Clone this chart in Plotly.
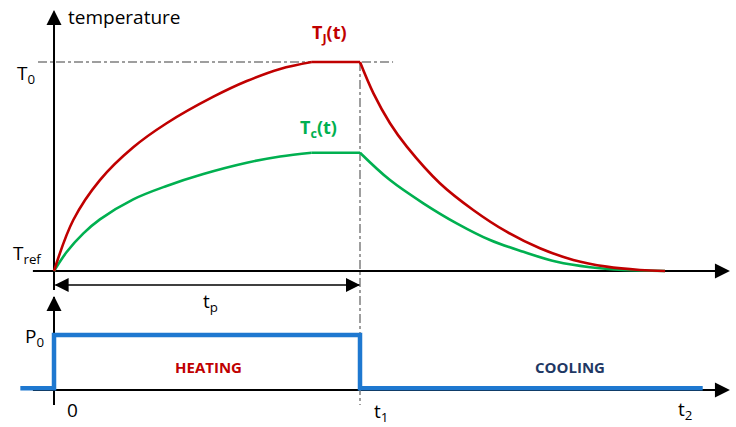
import plotly.graph_objects as go

# ---------------- data (time: t1 = 10 units; temperature: T0 = 100 units) -------------
T_REF = 0
T0 = 100
T1 = 10
T2 = 20
P0 = 1

tj_heat_t = [0, 0.63, 1.50, 2.59, 3.68, 5.21, 6.30, 7.39, 8.42]
tj_heat_T = [0, 24.4, 43.5, 59.2, 70.7, 83.4, 90.9, 96.7, 100]
tj_hold_t = [8.42, 10]
tj_hold_T = [100, 100]
tj_cool_t = [10, 10.44, 10.98, 11.53, 12.61, 13.70, 14.79, 15.88, 16.97, 18.06, 19.15, 19.97]
tj_cool_T = [100, 85, 70.7, 59.5, 42, 29.2, 18.8, 10.9, 5.3, 2.1, 0.5, 0]

tc_heat_t = [0, 0.42, 0.96, 1.50, 2.59, 3.68, 4.88, 6.30, 7.39, 8.42]
tc_heat_T = [0, 9.2, 18.0, 24.7, 34.3, 40.7, 46.4, 51.8, 54.8, 56.6]
tc_hold_t = [8.42, 10]
tc_hold_T = [56.6, 56.6]
tc_cool_t = [10, 10.98, 12.07, 13.16, 14.25, 15.34, 16.43, 17.52, 18.61, 19.97]
tc_cool_T = [56.6, 43.5, 32.4, 22.8, 14.8, 9.2, 4.4, 1.8, 0.5, 0]

power_t = [-1.1, 0, 0, 10, 10, 21.2]
power_P = [0.03, 0.03, 1, 1, 0.03, 0.03]

RED = "#C00000"
GREEN = "#00B050"
BLUE = "#1E78D0"
NAVY = "#1F3864"
GREY = "#7F7F7F"
FONT = "Open Sans"

fig = go.Figure()

def add_line(x, y, color, spline, yaxis="y", width=2.6):
    fig.add_trace(go.Scatter(
        x=x, y=y, mode="lines", yaxis=yaxis, hoverinfo="skip", showlegend=False,
        line=dict(color=color, width=width, shape="spline" if spline else "linear",
                  smoothing=1.0)))

add_line(tc_heat_t, tc_heat_T, GREEN, True)
add_line(tc_hold_t, tc_hold_T, GREEN, False)
add_line(tc_cool_t, tc_cool_T, GREEN, True)
add_line(tj_heat_t, tj_heat_T, RED, True)
add_line(tj_hold_t, tj_hold_T, RED, False)
add_line(tj_cool_t, tj_cool_T, RED, True)
add_line(power_t, power_P, BLUE, False, yaxis="y2", width=4.5)

# ---------- axes lines (shapes) ----------
AX = dict(color="black", width=2)
shapes = [
    dict(type="line", xref="x", yref="y", x0=-0.69, x1=22.0, y0=T_REF, y1=T_REF, line=AX, layer="below"),
    dict(type="line", xref="x", yref="y", x0=0, x1=0, y0=-9.1, y1=124, line=AX, layer="below"),
    dict(type="line", xref="x", yref="y2", x0=-0.69, x1=22.0, y0=0, y1=0, line=AX, layer="below"),
    dict(type="line", xref="x", yref="y2", x0=0, x1=0, y0=-0.273, y1=1.69, line=AX, layer="below"),
    dict(type="line", xref="x", yref="y", x0=0.05, x1=10, y0=-6.7, y1=-6.7,
         line=dict(color="black", width=1.6), layer="below"),
    dict(type="line", xref="x", yref="y", x0=-0.523, x1=11.08, y0=T0, y1=T0,
         line=dict(color=GREY, width=1.5, dash="dashdot"), layer="below"),
    dict(type="line", xref="x", yref="y", x0=T1, x1=T1, y0=T0, y1=-64.1,
         line=dict(color=GREY, width=1.5, dash="dashdot"), layer="below"),
]

# arrowheads as arrow markers (tip at the point)
def heads(xs, ys, symbols, yaxis="y", size=15):
    fig.add_trace(go.Scatter(
        x=xs, y=ys, mode="markers", yaxis=yaxis, hoverinfo="skip", showlegend=False,
        marker=dict(symbol=symbols, size=size, color="black", line=dict(width=0))))

heads([22.09, 0], [T_REF, 124.9], ["arrow-right", "arrow-up"])
heads([22.09, 0], [0, 1.709], ["arrow-right", "arrow-up"], yaxis="y2")
heads([0.02, 10], [-6.7, -6.7], ["arrow-left", "arrow-right"], size=14)

ann = []
def label(text, x, y, color="black", size=19, bold=False, xanchor="center", yanchor="middle",
          xshift=0, yshift=0, yref="y"):
    if bold:
        text = "<b>" + text + "</b>"
    ann.append(dict(x=x, y=y, xref="x", yref=yref, text=text, showarrow=False,
                    xanchor=xanchor, yanchor=yanchor, xshift=xshift, yshift=yshift,
                    font=dict(family=FONT, size=size, color=color)))

label("temperature", 0, 121.5, xanchor="left", xshift=12)
label("T<sub>0</sub>", 0, T0, xanchor="right", xshift=-17, yshift=-12)
label("T<sub>ref</sub>", 0, 10, xanchor="right", xshift=-10, yshift=-4)
label("time", 22.29, T_REF, xanchor="right", xshift=0, yshift=14)
label("T<sub>J</sub>(t)", T1, T0, color=RED, bold=True, size=18, xanchor="right", xshift=-11, yshift=29)
label("T<sub>c</sub>(t)", T1, 56.6, color=GREEN, bold=True, size=18, xanchor="right", xshift=-21, yshift=24)
label("t<sub>p</sub>", T1 / 2, -6.7, xshift=3, yshift=-17)
label("P<sub>0</sub>", 0, P0, xanchor="right", xshift=-8, yshift=-2, yref="y2")
label("0", 0, 0, xshift=18, yshift=-20, yref="y2")
label("t<sub>1</sub>", T1, 0, xshift=21, yshift=-22, yref="y2")
label("t<sub>2</sub>", T2, 0, xshift=19, yshift=-20, yref="y2")
label("HEATING", T1 / 2 + 0.05, 0.42, color=RED, bold=True, size=15, yref="y2")
label("COOLING", 16.86, 0.42, color=NAVY, bold=True, size=15, yref="y2")

fig.update_layout(
    width=736, height=427,
    margin=dict(l=0, r=0, t=0, b=0),
    paper_bgcolor="white", plot_bgcolor="white",
    xaxis=dict(range=[-1.765, 22.288], visible=False, fixedrange=True),
    yaxis=dict(range=[-74.64, 129.67], visible=False, fixedrange=True),
    yaxis2=dict(range=[-0.673, 7.09], visible=False, overlaying="y", fixedrange=True),
    shapes=shapes,
    annotations=ann,
    showlegend=False,
)

fig.write_html("out.html", config={"displayModeBar": False},
               post_script="document.body.style.margin='0';document.body.style.padding='0';")
